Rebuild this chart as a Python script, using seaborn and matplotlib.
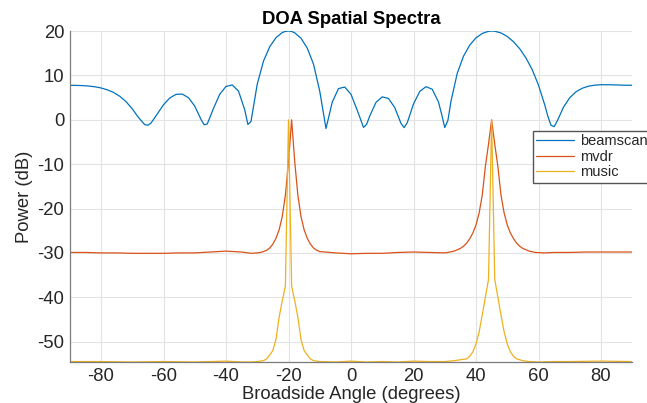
import numpy as np
import pandas as pd
import matplotlib
matplotlib.use("Agg")
import matplotlib.pyplot as plt
import seaborn as sns

# ---------------- data ----------------
bs_angle = [-90, -88, -86, -84, -82, -80, -78, -76, -74, -72, -70, -68, -66, -65, -64, -62, -60, -58, -56,
            -54, -52, -50, -48, -47, -46, -44, -42, -40, -38, -36, -34, -33, -32, -30, -28, -26, -24, -22,
            -21, -20, -19, -18, -16, -14, -12, -10, -8, -6, -4, -2, 0, 2, 4, 5, 6, 8, 10, 12, 14, 16, 17,
            18, 20, 22, 24, 26, 28, 29, 30, 31, 32, 34, 36, 38, 40, 42, 44, 45, 46, 48, 50, 52, 54, 56, 58,
            60, 62, 63, 64, 65, 66, 68, 70, 72, 74, 76, 78, 80, 82, 84, 86, 88, 90]
bs_db = [7.78, 7.77, 7.72, 7.62, 7.46, 7.19, 6.78, 6.18, 5.32, 4.11, 2.48, 0.52, -1.08, -1.22, -0.73, 1.31,
         3.41, 4.92, 5.74, 5.81, 4.99, 3.10, 0.10, -1.11, -0.94, 2.58, 5.77, 7.53, 7.87, 6.48, 2.25, -1.05,
         -0.37, 8.06, 13.26, 16.49, 18.53, 19.68, 19.94, 20.03, 19.92, 19.62, 18.40, 16.17, 12.56, 6.45,
         -1.95, 4.00, 7.05, 7.39, 5.76, 2.15, -1.71, -1.02, 0.87, 3.94, 5.18, 4.81, 2.76, -0.80, -1.75,
         -0.65, 3.59, 6.39, 7.48, 6.89, 4.01, 1.27, -1.73, -0.15, 4.20, 10.50, 14.35, 16.85, 18.49, 19.48,
         19.96, 20.03, 19.98, 19.59, 18.80, 17.61, 16.02, 13.94, 11.29, 7.82, 3.35, 0.79, -1.22, -1.53,
         -0.26, 2.86, 4.99, 6.32, 7.12, 7.59, 7.82, 7.92, 7.92, 7.89, 7.84, 7.80, 7.79]

mv_angle = [-90, -85, -80, -75, -70, -65, -60, -55, -50, -45, -40, -35, -32, -30, -29, -28, -27, -26, -25,
            -24, -23, -22, -21, -20, -19, -18, -17, -16, -15, -14, -13, -12, -11, -10, -5, 0, 5, 10, 15,
            20, 25, 30, 31, 33, 35, 36, 37, 38, 39, 40, 41, 42, 43, 44, 45, 46, 47, 48, 49, 50, 51, 52, 53,
            54, 55, 57, 59, 62, 65, 70, 75, 80, 85, 90]
mv_db = [-29.9, -29.9, -30.0, -30.0, -30.1, -30.1, -30.1, -30.0, -30.0, -29.8, -29.6, -29.8, -30.1, -30.0,
         -29.9, -29.7, -29.4, -28.9, -28.0, -26.7, -24.8, -21.8, -17.0, -9.5, 0.0, -9.5, -17.0, -21.8,
         -24.8, -26.7, -28.0, -28.9, -29.4, -29.7, -30.0, -30.2, -30.1, -30.1, -29.9, -29.8, -29.9, -30.0,
         -29.9, -29.6, -29.0, -28.5, -27.8, -26.8, -25.5, -23.7, -21.0, -17.0, -10.5, -5.5, 0.0, -5.5,
         -10.5, -17.0, -21.0, -23.7, -25.5, -26.8, -27.8, -28.5, -29.0, -29.6, -29.9, -30.0, -29.9, -29.9,
         -29.8, -29.8, -29.8, -29.8]

mu_angle = [-90, -80, -70, -60, -50, -40, -35, -32, -30, -29, -28, -27, -26, -25, -24, -23, -22, -21, -20,
            -19, -18, -17, -16, -15, -14, -13, -12, -11, -10, -5, 0, 5, 10, 15, 20, 25, 30, 33, 35, 37, 38,
            39, 40, 41, 42, 43, 44, 45, 46, 47, 48, 49, 50, 51, 52, 53, 55, 57, 60, 65, 70, 80, 90]
mu_db = [-54.5, -54.5, -54.6, -54.5, -54.6, -54.4, -54.6, -54.6, -54.5, -54.4, -54.3, -53.9, -53.0, -52.0,
         -49.5, -44.5, -40.8, -37.5, 0.0, -37.5, -40.8, -44.5, -49.5, -52.0, -53.0, -53.9, -54.3, -54.4,
         -54.5, -54.6, -54.4, -54.6, -54.5, -54.6, -54.4, -54.5, -54.5, -54.3, -54.1, -53.9, -53.3, -52.3,
         -50.5, -47.8, -44.0, -40.0, -36.0, 0.0, -36.0, -40.0, -44.0, -47.8, -50.5, -52.3, -53.3, -53.9,
         -54.3, -54.5, -54.6, -54.5, -54.5, -54.4, -54.5]

series_names = ["beamscan", "mvdr", "music"]
x_ticks = [-80, -60, -40, -20, 0, 20, 40, 60, 80]
y_ticks = [-50, -40, -30, -20, -10, 0, 10, 20]

# ---------------- styling ----------------
sns.set_theme(style="white")
plt.rcParams["font.family"] = ["Liberation Sans", "DejaVu Sans"]

colors = ["#0072BD", "#D95319", "#EDB120"]
dfs = [
    pd.DataFrame({"angle": bs_angle, "power": bs_db}),
    pd.DataFrame({"angle": mv_angle, "power": mv_db}),
    pd.DataFrame({"angle": mu_angle, "power": mu_db}),
]

W, H = 647, 403
fig = plt.figure(figsize=(W / 100, H / 100), dpi=100)
ax = fig.add_axes([69.75 / W, 1 - 362 / H, (632.25 - 69.75) / W, (362 - 31) / H])

for df, name, c in zip(dfs, series_names, colors):
    sns.lineplot(data=df, x="angle", y="power", ax=ax, color=c, linewidth=0.9,
                 label=name, sort=False, estimator=None)

ax.set_xlim(-90, 90)
ax.set_ylim(-54.6, 20.03)
ax.set_xticks(x_ticks)
ax.set_yticks(y_ticks)
ax.set_xticklabels([str(v) for v in x_ticks])
ax.set_yticklabels([str(v) for v in y_ticks])
ax.grid(True, color="#e3e3e3", linewidth=0.8)
ax.set_axisbelow(True)
for s in ["top", "right"]:
    ax.spines[s].set_visible(False)
for s in ["left", "bottom"]:
    ax.spines[s].set_color("#7a7a7a")
    ax.spines[s].set_linewidth(0.9)
ax.tick_params(direction="in", length=4, width=0.8, color="#555555",
               labelsize=13.3, labelcolor="#262626", pad=4)

ax.set_title("DOA Spatial Spectra", fontsize=13.3, fontweight="bold", color="black", pad=5)
ax.set_xlabel("Broadside Angle (degrees)", fontsize=13.3, color="#262626", labelpad=1)
ax.set_ylabel("Power (dB)", fontsize=13.3, color="#262626", labelpad=3)

if ax.legend_ is not None:
    ax.legend_.remove()
handles, labels = ax.get_legend_handles_labels()
leg = fig.legend(handles, labels, loc="upper left",
                 bbox_to_anchor=(532.7 / W, 1 - 130.7 / H), bbox_transform=fig.transFigure,
                 fontsize=10.5, frameon=True, fancybox=False, edgecolor="#555555",
                 handlelength=2.6, handletextpad=0.4, borderpad=0.25, labelspacing=0.1,
                 borderaxespad=0)
leg.get_frame().set_linewidth(1.0)
leg.get_frame().set_facecolor("white")
leg.get_frame().set_alpha(1)

fig.savefig("out.png", dpi=100)
